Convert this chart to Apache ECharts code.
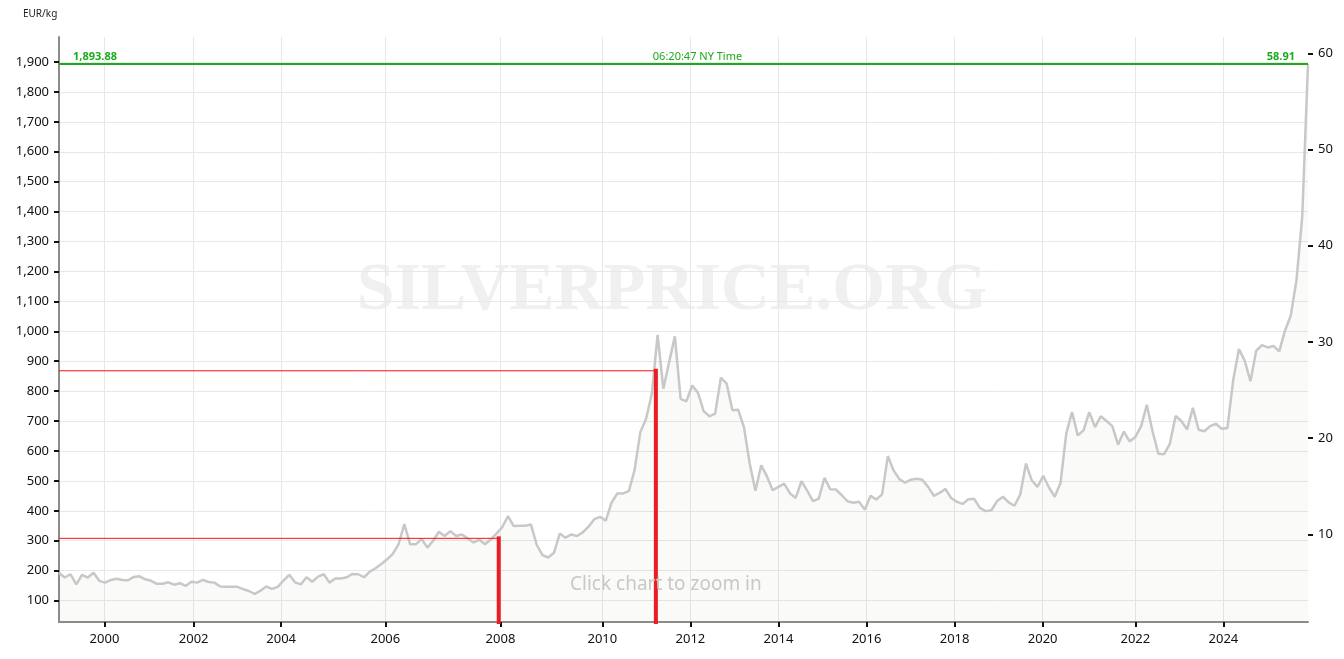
<!DOCTYPE html>
<html>
<head>
<meta charset="utf-8">
<script src="https://cdn.jsdelivr.net/npm/echarts@6/dist/echarts.min.js"></script>
<style>
  html, body { margin: 0; padding: 0; background: #fff; }
  #chart { width: 1344px; height: 659px; }
</style>
</head>
<body>
<div id="chart"></div>
<script>
// silver price, EUR per kg, one value per sample (evenly spaced like an ordinal axis)
var prices = [
  193,177,188,154,186,177,193,166,160,169,
  173,169,168,179,181,171,166,156,156,161,
  153,158,149,163,160,169,162,160,147,146,
  146,146,138,132,122,133,147,139,146,167,
  186,161,154,178,163,180,188,160,174,174,
  178,189,188,178,197,208,222,238,256,289,
  356,288,288,306,277,300,330,316,332,316,
  321,308,294,304,288,304,324,345,382,349,
  350,350,354,286,252,244,260,324,310,321,
  316,328,347,372,380,367,427,458,458,466,
  536,663,708,791,988,808,897,983,774,766,
  819,795,733,716,725,845,825,736,738,680,
  558,467,552,515,469,480,491,458,443,499,
  467,432,441,510,472,471,452,432,427,430,
  404,450,438,455,583,535,506,494,504,507,
  504,480,450,460,473,443,430,423,439,440,
  410,399,402,433,447,428,417,454,558,502,
  480,517,478,447,493,658,730,652,669,730,
  680,716,700,683,621,665,632,647,682,754,
  665,591,589,624,717,700,672,744,671,666,
  683,691,674,677,836,941,902,833,935,954,
  946,951,933,1002,1052,1171,1383,1893.88
];

// year labels and where they fall along the sample index
var yearLabels = ['2000','2002','2004','2006','2008','2010','2012','2014','2016','2018','2020','2022','2024'];
var yearAt = [7.9, 23.4, 38.6, 56.7, 76.7, 94.4, 109.7, 125.0, 140.3, 155.6, 170.9, 187.0, 202.3];

var leftTicks = [100,200,300,400,500,600,700,800,900,1000,1100,1200,1300,1400,1500,1600,1700,1800,1900];
var rightTicks = [10,20,30,40,50,60];

// red markers: sample index and price
var markerAt = [76.4, 103.7];
var markerPrice = [308, 868];

var lastPrice = 1893.88;
var lastTime = '06:20:47 NY Time';
var OZ_PER_KG = 32.1507;

var yMin = 28.4, yMax = 1983.6;

var fmt = function (v) {
  return v.toLocaleString('en-US', { minimumFractionDigits: 0, maximumFractionDigits: 2 });
};

var myChart = echarts.init(document.getElementById('chart'));

var green = '#1aab1a';
function greenMark(position, text, bold, dist, offset) {
  return {
    yAxis: lastPrice,
    lineStyle: { color: green, width: 2, type: 'solid' },
    label: { show: true, position: position, formatter: text, color: green,
      fontWeight: bold ? 'bold' : 'normal', fontSize: 11, distance: dist, offset: offset || [0, 0] }
  };
}

var series = [
  {
    type: 'line',
    data: prices.map(function (v, i) { return [i, v]; }),
    showSymbol: false,
    silent: true,
    lineStyle: { color: '#c8c8c8', width: 2.5 },
    areaStyle: { color: 'rgba(100,100,60,0.05)', origin: 'start' },
    markLine: {
      silent: true,
      symbol: 'none',
      animation: false,
      data: [
        greenMark('insideStartTop', lastPrice.toLocaleString('en-US', {minimumFractionDigits: 2}), true, [14, 1]),
        greenMark('insideMiddleTop', lastTime, false, [0, 1], [14, 0]),
        greenMark('insideEndTop', (lastPrice / OZ_PER_KG).toFixed(2), true, [13, 1])
      ]
    }
  }
];

// red markers: thin horizontal guide from the left axis, thick bar up from the bottom
for (var i = 0; i < markerAt.length; i++) {
  series.push({
    type: 'line', silent: true, showSymbol: false, z: 5,
    data: [[0, markerPrice[i]], [markerAt[i], markerPrice[i]]],
    lineStyle: { color: '#ff1010', width: 1 }
  });
  series.push({
    type: 'line', silent: true, showSymbol: false, z: 6,
    data: [[markerAt[i], yMin], [markerAt[i], markerPrice[i]]],
    lineStyle: { color: '#ed1c24', width: 4, cap: 'square' }
  });
}

var option = {
  animation: false,
  textStyle: { fontFamily: 'Noto Sans' },
  title: {
    text: 'EUR/kg', left: 18, top: 4,
    textStyle: { fontSize: 10, fontWeight: 'normal', color: '#222', fontFamily: 'Noto Sans' }
  },
  graphic: [
    {
      type: 'text', left: 'center', top: 257, z: -10, silent: true,
      style: { text: 'SILVERPRICE.ORG', fill: '#f0f0f0', font: 'bold 68px "Liberation Serif"' },
      x: 0
    },
    {
      type: 'text', left: 570, top: 575, z: 10, silent: true,
      style: { text: 'Click chart to zoom in', fill: '#c8c8c8', font: '19px "Noto Sans"' }
    }
  ],
  grid: { left: 59, right: 36, top: 37, bottom: 37, containLabel: false },
  xAxis: {
    type: 'value',
    min: 0,
    max: prices.length - 1,
    axisLine: { show: true, lineStyle: { color: '#8c8c8c', width: 2 } },
    axisTick: { show: true, length: 5, lineStyle: { color: '#111', width: 2 }, customValues: yearAt },
    axisLabel: {
      customValues: yearAt, margin: 11, fontSize: 13, color: '#111',
      formatter: function (v) {
        var k = yearAt.indexOf(v);
        return k >= 0 ? yearLabels[k] : '';
      }
    },
    splitLine: { show: true, lineStyle: { color: '#e8e8e8', width: 1 } }
  },
  yAxis: [
    {
      type: 'value', position: 'left', min: yMin, max: yMax,
      axisLine: { show: true, lineStyle: { color: '#8c8c8c', width: 2 } },
      axisTick: { show: true, length: 5, lineStyle: { color: '#111', width: 2 }, customValues: leftTicks },
      axisLabel: { customValues: leftTicks, margin: 10, fontSize: 13, color: '#111', formatter: fmt },
      splitLine: { show: true, lineStyle: { color: '#e8e8e8', width: 1 } }
    },
    {
      type: 'value', position: 'right', min: yMin / OZ_PER_KG, max: yMax / OZ_PER_KG,
      axisLine: { show: false },
      axisTick: { show: true, inside: false, length: 5, lineStyle: { color: '#111', width: 2 }, customValues: rightTicks },
      axisLabel: { customValues: rightTicks, margin: 10, fontSize: 13, color: '#111' },
      splitLine: { show: false }
    }
  ],
  series: series
};
myChart.setOption(option);
</script>
</body>
</html>
